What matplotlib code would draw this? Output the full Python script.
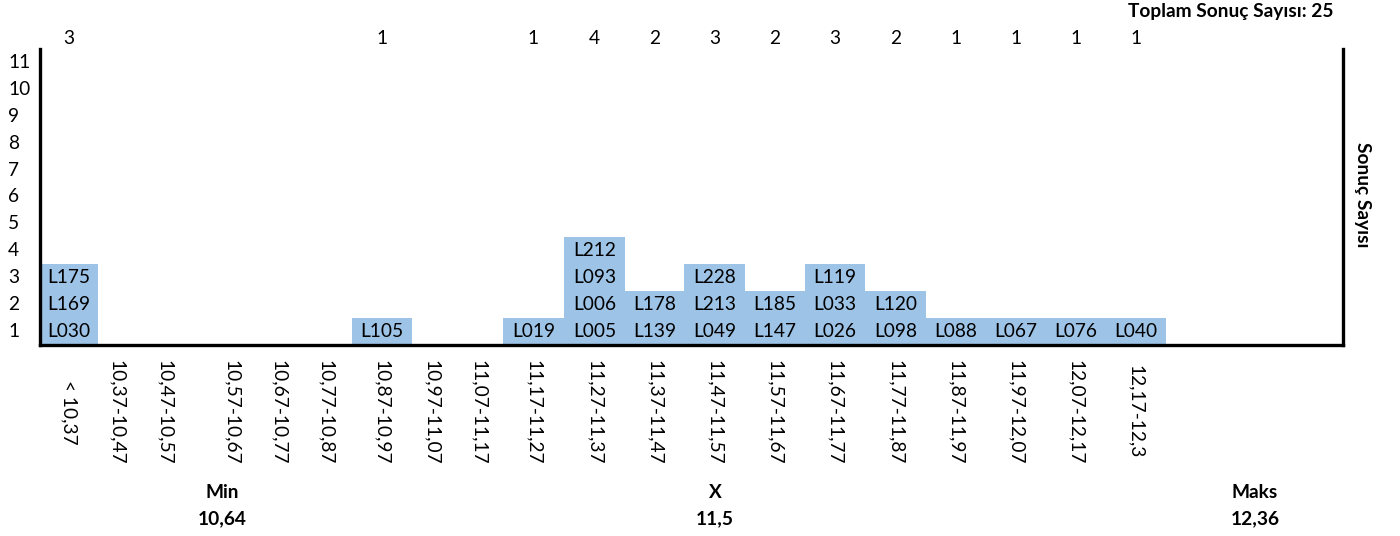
import matplotlib
matplotlib.use("Agg")
import matplotlib.pyplot as plt
from matplotlib.transforms import blended_transform_factory

# ---- data ----
categories = ["< 10,37", "10,37-10,47", "10,47-10,57", "10,57-10,67", "10,67-10,77",
              "10,77-10,87", "10,87-10,97", "10,97-11,07", "11,07-11,17", "11,17-11,27",
              "11,27-11,37", "11,37-11,47", "11,47-11,57", "11,57-11,67", "11,67-11,77",
              "11,77-11,87", "11,87-11,97", "11,97-12,07", "12,07-12,17", "12,17-12,3"]
counts = [3, 0, 0, 0, 0, 0, 1, 0, 0, 1, 4, 2, 3, 2, 3, 2, 1, 1, 1, 1]
sample_ids = [
    ["L030", "L169", "L175"], [], [], [], [], [],
    ["L105"], [], [],
    ["L019"],
    ["L005", "L006", "L093", "L212"],
    ["L139", "L178"],
    ["L049", "L213", "L228"],
    ["L147", "L185"],
    ["L026", "L033", "L119"],
    ["L098", "L120"],
    ["L088"], ["L067"], ["L076"], ["L040"],
]
y_ticks = list(range(1, 12))
stat_labels = ["Min", "X", "Maks"]
stat_values = ["10,64", "11,5", "12,36"]
total_label = "Toplam Sonuç Sayısı: "
axis_title = "Sonuç Sayısı"

# ---- layout (pixel-like x units) ----
col_centers = [69, 117, 165, 232, 279, 326, 382, 432, 479, 533.5, 594.5, 654.5,
               714.5, 775, 835, 895.5, 956, 1016, 1076, 1136]
col_widths = [58] + [48] * 5 + [60] + [46] * 2 + [60.5] * 11
stat_x = [222, 715, 1255]
bar_color = "#9DC3E6"
FONT = ["Lato", "DejaVu Sans"]
FS = 13.8

W, H = 1400, 536
fig = plt.figure(figsize=(W / 100, H / 100), dpi=100)
ax_left, ax_right, ax_top, ax_bottom = 40, 1343, 49, 345
ax = fig.add_axes([ax_left / W, (H - ax_bottom) / H, (ax_right - ax_left) / W, (ax_bottom - ax_top) / H])
ax.set_xlim(ax_left, ax_right)
ax.set_ylim(0, 11)

for i, ids in enumerate(sample_ids):
    for j, sid in enumerate(ids):
        ax.bar(col_centers[i], 1, bottom=j, width=col_widths[i], color=bar_color,
               linewidth=0, align="center")
        ax.text(col_centers[i], j + 0.5, sid, ha="center", va="center",
                fontsize=FS, family=FONT, color="black")

# spines
for s in ["left", "bottom", "right"]:
    ax.spines[s].set_linewidth(2.4)
    ax.spines[s].set_color("black")
ax.spines["top"].set_visible(False)
ax.set_xticks([])
ax.set_yticks([])

# y tick labels (left-aligned at the figure edge)
ytrans = blended_transform_factory(fig.transFigure, ax.transData)
for v in y_ticks:
    ax.text(8 / W, v - 0.5, str(v), transform=ytrans, ha="left", va="center",
            fontsize=FS, family=FONT)

# x category labels (rotated)
xtrans = blended_transform_factory(ax.transData, fig.transFigure)
for c, lab in zip(col_centers, categories):
    ax.text(c, 1 - 412 / H, lab, transform=xtrans, rotation=270, ha="center", va="center",
            fontsize=FS, family=FONT, rotation_mode="anchor")

# counts on top
for c, n in zip(col_centers, counts):
    if n > 0:
        ax.text(c, 1 - 38 / H, str(n), transform=xtrans, ha="center", va="center",
                fontsize=FS, family=FONT)

# stats below
for x, lab, val in zip(stat_x, stat_labels, stat_values):
    ax.text(x, 1 - 492 / H, lab, transform=xtrans, ha="center", va="center",
            fontsize=FS, family=FONT, fontweight="bold")
    ax.text(x, 1 - 519 / H, val, transform=xtrans, ha="center", va="center",
            fontsize=FS, family=FONT, fontweight="bold")

fig.text(1334 / W, 1 - 12 / H, total_label + str(sum(counts)), ha="right", va="center",
         fontsize=FS, family=FONT, fontweight="bold")
fig.text(1362 / W, 1 - 195 / H, axis_title, rotation=270, ha="center", va="center",
         fontsize=FS, family=FONT, fontweight="bold")

fig.savefig("out.png", dpi=100)
